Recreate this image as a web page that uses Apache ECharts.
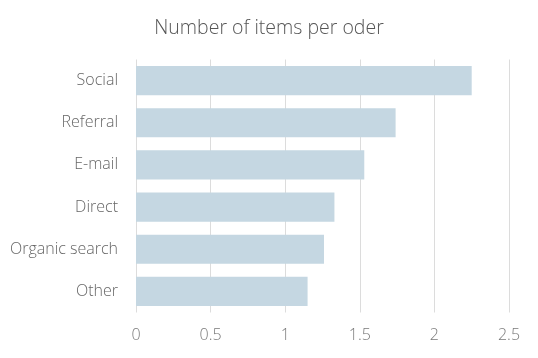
<!DOCTYPE html>
<html><head><meta charset="utf-8">
<script src="https://cdn.jsdelivr.net/npm/echarts@6/dist/echarts.min.js"></script>
<style>html,body{margin:0;padding:0;background:#fff}#c{width:538px;height:358px}</style>
</head><body><div id="c"></div>
<script>
const categories = ["Social", "Referral", "E-mail", "Direct", "Organic search", "Other"];
const values = [2.25, 1.74, 1.53, 1.33, 1.26, 1.15];
const xTicks = [0, 0.5, 1, 1.5, 2, 2.5];
const title = "Number of items per oder";

const font = "'Open Sans', sans-serif";
const chart = echarts.init(document.getElementById('c'), null, {renderer: 'canvas'});
chart.setOption({
  animation: false,
  title: {text: title, left: 'center', top: 13,
    textStyle: {fontFamily: font, fontWeight: 300, fontSize: 19.5, color: '#555'}},
  grid: {left: 136, right: 29, top: 59.5, bottom: 45.5, containLabel: false},
  xAxis: {type: 'value', min: xTicks[0], max: xTicks[xTicks.length-1], interval: 0.5,
    axisLine: {show: false}, axisTick: {show: false},
    splitLine: {lineStyle: {color: '#dcdcdc'}},
    axisLabel: {color: '#7a7a7a', fontFamily: font, fontWeight: 300, fontSize: 16, margin: 15}},
  yAxis: {type: 'category', data: categories, inverse: true,
    axisLine: {show: false}, axisTick: {show: false},
    axisLabel: {color: '#666', fontFamily: font, fontWeight: 300, fontSize: 16, margin: 18}},
  series: [{type: 'bar', data: values, barCategoryGap: '31%',
    itemStyle: {color: '#c5d7e2'}}]
});
</script></body></html>
